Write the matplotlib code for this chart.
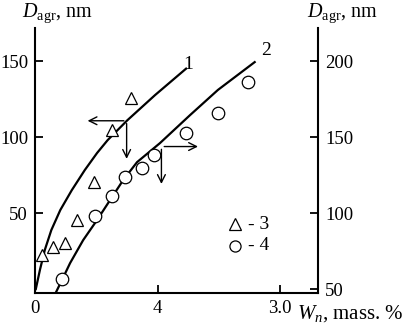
import matplotlib.pyplot as plt

plt.rcParams['font.family'] = ['Liberation Serif', 'DejaVu Serif']
plt.rcParams['mathtext.fontset'] = 'custom'
plt.rcParams['mathtext.rm'] = 'Liberation Serif'
plt.rcParams['mathtext.it'] = 'Liberation Serif:italic'

# data
tri_x = [0.09, 0.22, 0.37, 0.51, 0.72, 0.94, 1.18]
tri_y = [22.4, 27.6, 30.3, 45.4, 70.4, 104.6, 125.7]        # left axis

circ_x = [0.33, 0.73, 0.94, 1.10, 1.31, 1.46, 1.85, 2.24, 2.61]
circ_y = [56.6, 98.0, 111.2, 123.7, 129.6, 138.2, 152.6, 165.8, 186.2]   # right axis

curve1_x = [0.01, 0.06, 0.12, 0.20, 0.31, 0.45, 0.61, 0.76, 0.89, 1.13, 1.47, 1.85]
curve1_y = [0, 12.5, 25.7, 38.8, 52, 65, 78.3, 89.5, 98, 111, 127.6, 145]

curve2_x = [0.26, 0.33, 0.43, 0.59, 0.76, 0.92, 1.08, 1.25, 1.53, 1.9, 2.24, 2.69]
curve2_y = [48.2, 55.9, 67.1, 82.2, 95.4, 108.6, 121.7, 133.5, 146, 164.5, 181, 199.3]

x_ticks = [0, 1.5, 3.0]
x_ticklabels = ['0', '4', '3.0']

fig = plt.figure(figsize=(4.06, 3.32), dpi=100)
ax = fig.add_axes([0.0862, 0.1175, 0.697, 0.798])
ax2 = ax.twinx()

ax.set_xlim(0, 3.465)
ax.set_ylim(-2.6, 171.7)
ax2.set_ylim(47.4, 221.7)

ax.plot(curve1_x, curve1_y, color='black', lw=1.6, solid_joinstyle='round')
ax.plot(tri_x, tri_y, ls='none', marker='^', ms=9, mfc='white', mec='black', mew=0.9)
ax2.plot(curve2_x, curve2_y, color='black', lw=1.6, solid_joinstyle='round')
ax2.plot(circ_x, circ_y, ls='none', marker='o', ms=9, mfc='white', mec='black', mew=0.9)

# arrows showing which axis each curve belongs to
arr = dict(arrowstyle='->', color='black', lw=1.0, mutation_scale=14)
ax.annotate('', xy=(0.61, 110.7), xytext=(1.122, 110.7), arrowprops=arr)
ax.annotate('', xy=(1.122, 83.8), xytext=(1.122, 110.7), arrowprops=arr)
ax2.annotate('', xy=(2.03, 143.75), xytext=(1.548, 143.75), arrowprops=arr)
ax2.annotate('', xy=(1.548, 117.3), xytext=(1.548, 143.75), arrowprops=arr)

ax.text(1.87, 147.5, '1', fontsize=14, ha='center', va='center')
ax2.text(2.83, 207, '2', fontsize=14, ha='center', va='center')

# legend
ax.plot([0.707], [0.26], transform=ax.transAxes, marker='^', ms=8,
        mfc='white', mec='black', mew=0.9, ls='none', clip_on=False)
ax.plot([0.707], [0.178], transform=ax.transAxes, marker='o', ms=8,
        mfc='white', mec='black', mew=0.9, ls='none', clip_on=False)
ax.text(0.752, 0.26, '- 3', transform=ax.transAxes, fontsize=14, va='center')
ax.text(0.752, 0.178, '- 4', transform=ax.transAxes, fontsize=14, va='center')

ax.set_xticks(x_ticks)
ax.set_xticklabels(x_ticklabels)
ax.set_yticks([50, 100, 150])
ax2.set_yticks([50, 100, 150, 200])

for a in (ax, ax2):
    a.spines['top'].set_visible(False)
    for s in a.spines.values():
        s.set_linewidth(1.5)
    a.tick_params(direction='in', length=6, width=1.3, labelsize=13.5, pad=5)
ax.spines['right'].set_visible(False)
ax2.spines['left'].set_visible(False)
ax2.spines['bottom'].set_visible(False)

fig.text(57 / 406, 1 - 13 / 332, r'$D_{\rm agr}$, nm', fontsize=14.5, ha='center', va='center')
fig.text(342 / 406, 1 - 13 / 332, r'$D_{\rm agr}$, nm', fontsize=14.5, ha='center', va='center')
fig.text(297 / 406, 1 - 314 / 332, r'$W_n$, mass. %', fontsize=15, ha='left', va='center')

fig.savefig('out.png', dpi=100)
